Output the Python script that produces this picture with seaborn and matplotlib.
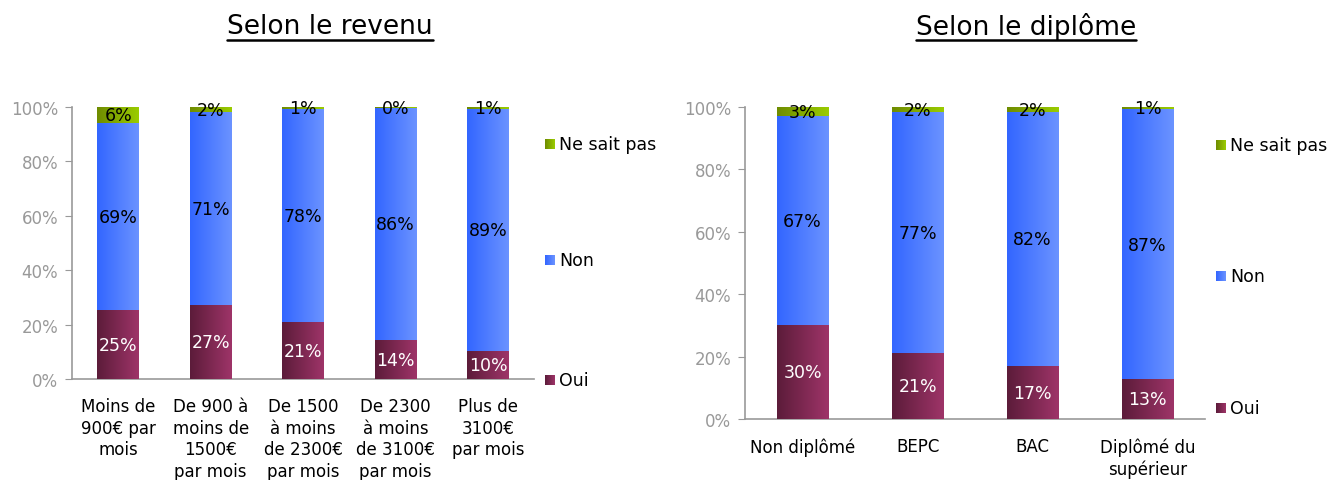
import numpy as np
import matplotlib
matplotlib.use("Agg")
import matplotlib.pyplot as plt
import seaborn as sns
from matplotlib.colors import LinearSegmentedColormap
from matplotlib.lines import Line2D

# données (en %), étiquettes = valeurs arrondies
revenu_cats = ["Moins de\n900€ par\nmois", "De 900 à\nmoins de\n1500€\npar mois",
               "De 1500\nà moins\nde 2300€\npar mois", "De 2300\nà moins\nde 3100€\npar mois",
               "Plus de\n3100€\npar mois"]
revenu_oui = [25.2, 27.0, 20.8, 14.0, 10.2]
revenu_non = [68.6, 71.0, 78.2, 85.6, 88.8]
revenu_nsp = [6.2, 2.0, 1.0, 0.4, 1.0]

diplome_cats = ["Non diplômé", "BEPC", "BAC", "Diplômé du\nsupérieur"]
diplome_oui = [30.0, 21.0, 16.8, 12.6]
diplome_non = [66.9, 77.2, 81.6, 86.6]
diplome_nsp = [3.1, 1.8, 1.6, 0.8]

series_names = ["Oui", "Non", "Ne sait pas"]
# dégradés horizontaux (gauche foncé -> droite clair)
grad_colors = {
    "Oui": ("#5c1c3a", "#9e3468"),
    "Non": ("#3366ff", "#6b93ff"),
    "Ne sait pas": ("#6f8c00", "#9acc00"),
}
label_colors = {"Oui": "white", "Non": "black", "Ne sait pas": "black"}

sns.set_style("white")
plt.rcParams["font.family"] = ["DejaVu Sans"]
plt.rcParams["text.color"] = "black"
plt.rcParams["xtick.color"] = "black"

fig = plt.figure(figsize=(13.3, 4.81), dpi=100)
ax1 = fig.add_axes([0.0541, 0.21, 0.3477, 0.5655])
ax2 = fig.add_axes([0.5602, 0.1268, 0.3459, 0.6486])


def gradient_patch(ax, patch, c0, c1, z):
    x, y = patch.get_x(), patch.get_y()
    w, h = patch.get_width(), patch.get_height()
    cmap = LinearSegmentedColormap.from_list("g", [c0, c1])
    grad = np.linspace(0, 1, 64).reshape(1, -1)
    ax.imshow(grad, cmap=cmap, extent=[x, x + w, y, y + h], aspect="auto",
              zorder=z, interpolation="bilinear")
    patch.set_visible(False)


def draw_panel(ax, cats, oui, non, nsp, legend_pos):
    vals = {"Oui": np.array(oui), "Non": np.array(non), "Ne sait pas": np.array(nsp)}
    cum_oui = vals["Oui"]
    cum_non = cum_oui + vals["Non"]
    cum_all = cum_non + vals["Ne sait pas"]
    layers = [("Ne sait pas", cum_all), ("Non", cum_non), ("Oui", cum_oui)]
    n = len(cats)
    for i, (name, cum) in enumerate(layers):
        before = len(ax.patches)
        sns.barplot(x=list(range(n)), y=cum, color=grad_colors[name][1],
                    width=0.45, ax=ax, native_scale=True, linewidth=0)
        for p in ax.patches[before:]:
            gradient_patch(ax, p, *grad_colors[name], z=2 + i)

    # étiquettes de valeurs
    bottoms = {"Oui": np.zeros(n), "Non": cum_oui, "Ne sait pas": cum_non}
    for name in series_names:
        for j in range(n):
            v = vals[name][j]
            ax.text(j, bottoms[name][j] + v / 2, f"{round(v)}%", ha="center", va="center",
                    fontsize=12.5, color=label_colors[name], zorder=10)

    ax.set_xlim(-0.5, n - 0.5)
    ax.set_ylim(0, 100)
    ax.set_xticks(range(n))
    ax.set_xticklabels(cats, fontsize=12, linespacing=1.25, color="black")
    ax.set_xticks(np.arange(-0.5, n, 1), minor=True)
    ax.tick_params(axis="x", which="major", length=0, pad=13)
    ax.tick_params(axis="x", which="minor", length=5, color="#999999", direction="out")
    ax.set_yticks(range(0, 101, 20))
    ax.set_yticklabels([f"{t}%" for t in range(0, 101, 20)], fontsize=12, color="#999999")
    ax.tick_params(axis="y", length=5, color="#999999", direction="out", left=True, pad=5)
    for s in ["top", "right"]:
        ax.spines[s].set_visible(False)
    for s in ["left", "bottom"]:
        ax.spines[s].set_color("#999999")
        ax.spines[s].set_linewidth(1.2)

    # légende manuelle
    lx, sw, sh, tx = legend_pos["x"], legend_pos["w"], legend_pos["h"], legend_pos["tx"]
    for name, yc in zip(["Ne sait pas", "Non", "Oui"], legend_pos["ys"]):
        cmap = LinearSegmentedColormap.from_list("g", list(grad_colors[name]))
        ax.imshow(np.linspace(0, 1, 32).reshape(1, -1), cmap=cmap, aspect="auto",
                  extent=[lx, lx + sw, yc - sh / 2, yc + sh / 2],
                  transform=ax.transAxes, clip_on=False, zorder=5)
        ax.text(tx, yc, name, transform=ax.transAxes, fontsize=12.5, va="center", ha="left")
    ax.set_xlim(-0.5, n - 0.5)
    ax.set_ylim(0, 100)


draw_panel(ax1, revenu_cats, revenu_oui, revenu_non, revenu_nsp,
           {"x": 1.023, "w": 0.021, "h": 0.036, "tx": 1.053, "ys": [0.864, 0.4375, -0.004]})
draw_panel(ax2, diplome_cats, diplome_oui, diplome_non, diplome_nsp,
           {"x": 1.024, "w": 0.021, "h": 0.031, "tx": 1.055, "ys": [0.878, 0.458, 0.035]})

# titres soulignés
titles = [("Selon le revenu", 330 / 1330), ("Selon le diplôme", 1026 / 1330)]
fig.canvas.draw()
renderer = fig.canvas.get_renderer()
for txt, xc in titles:
    t = fig.text(xc, 1 - 27 / 481, txt, ha="center", va="center", fontsize=19)
    bb = t.get_window_extent(renderer=renderer).transformed(fig.transFigure.inverted())
    yline = 1 - 41 / 481
    fig.add_artist(Line2D([bb.x0, bb.x1], [yline, yline], color="black", lw=1.8,
                          transform=fig.transFigure))

fig.savefig("out.png", dpi=100)
